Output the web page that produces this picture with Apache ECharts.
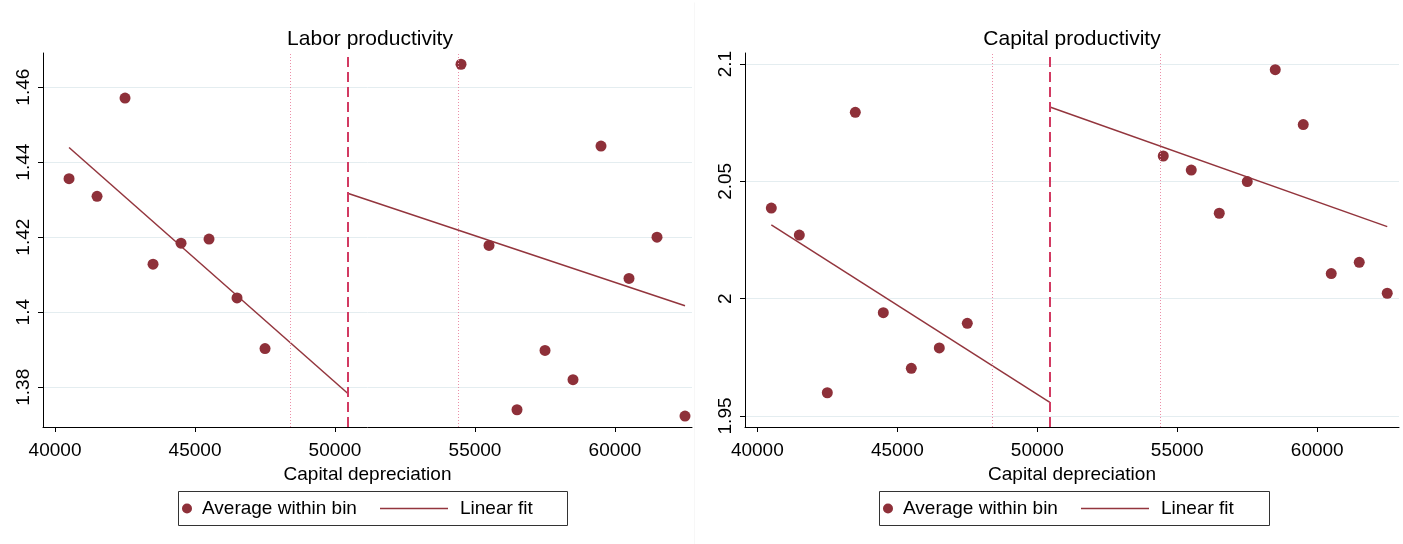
<!DOCTYPE html>
<html>
<head>
<meta charset="utf-8">
<script src="https://cdn.jsdelivr.net/npm/echarts@6/dist/echarts.min.js"></script>
<style>
  html, body { margin: 0; padding: 0; background: #fff; }
  #main { width: 1403px; height: 544px; }
</style>
</head>
<body>
<div id="main"></div>
<script>
// bin centres (capital depreciation)
var binX = [40500, 41500, 42500, 43500, 44500, 45500, 46500, 47500,
            54500, 55500, 56500, 57500, 58500, 59500, 60500, 61500, 62500];
// averages within bin
var laborAvg = [1.4356, 1.4309, 1.4571, 1.4128, 1.4184, 1.4195, 1.4038, 1.3903,
                1.4661, 1.4178, 1.3740, 1.3898, 1.3820, 1.4443, 1.4090, 1.4200, 1.3723];
var capitalAvg = [2.0386, 2.0271, 1.9599, 2.0794, 1.9940, 1.9703, 1.9790, 1.9895,
                  2.0608, 2.0548, 2.0364, 2.0499, 2.0976, 2.0742, 2.0107, 2.0155, 2.0023];
// linear fit end points, below and above the cutoff
var fitLeftX = [40500, 50450];
var fitRightX = [50450, 62500];
var laborFitLeft = [1.4439, 1.3784];
var laborFitRight = [1.4317, 1.4017];
var capitalFitLeft = [2.0314, 1.9558];
var capitalFitRight = [2.0817, 2.0307];
// cutoff and bandwidth limits
var cutoff = 50450;
var bandLimits = [48400, 54400];
// tick labels
var xTicks = [40000, 45000, 50000, 55000, 60000];
var laborTicks = [1.38, 1.4, 1.42, 1.44, 1.46];
var capitalTicks = [1.95, 2, 2.05, 2.1];

var FONT = "'Liberation Sans', Arial, sans-serif";
var DOT = '#8e3039';
var LINE = '#93353d';

function pairs(xs, ys) {
  return xs.map(function (x, i) { return [x, ys[i]]; });
}

function vLines() {
  return {
    silent: true,
    symbol: 'none',
    label: { show: false },
    data: [
      { xAxis: bandLimits[0], lineStyle: { color: '#ec8fa8', type: [1, 2], width: 1 } },
      { xAxis: bandLimits[1], lineStyle: { color: '#ec8fa8', type: [1, 2], width: 1 } },
      { xAxis: cutoff, lineStyle: { color: '#d23a62', type: [10, 5], width: 2 } }
    ]
  };
}

function xAxisOf(idx, min, max) {
  return {
    type: 'value', gridIndex: idx, min: min, max: max,
    name: 'Capital depreciation', nameLocation: 'middle', nameGap: 33,
    nameTextStyle: { color: '#000', fontSize: 19, fontFamily: FONT },
    axisLine: { onZero: false, lineStyle: { color: '#000', width: 1 } },
    axisTick: { length: 5, lineStyle: { color: '#000' }, customValues: xTicks },
    axisLabel: { color: '#000', fontSize: 19, fontFamily: FONT, margin: 14,
                 customValues: xTicks, formatter: function (v) { return String(v); } },
    splitLine: { show: false }
  };
}

function yAxisOf(idx, min, max, ticks) {
  return {
    type: 'value', gridIndex: idx, min: min, max: max,
    axisLine: { show: true, lineStyle: { color: '#000', width: 1 } },
    axisTick: { show: true, length: 5, lineStyle: { color: '#000' }, customValues: ticks },
    axisLabel: { color: '#000', fontSize: 19, fontFamily: FONT, rotate: 90, margin: 10,
                 customValues: ticks, formatter: function (v) { return String(+v.toFixed(4)); } },
    splitLine: { show: true, lineStyle: { color: '#e4edf0', width: 1 } }
  };
}

function legendsAt(left) {
  return [
    {
      left: left + 6, top: 499, padding: 0, itemWidth: 20, itemHeight: 10,
      icon: 'circle', data: ['Average within bin'],
      textStyle: { color: '#000', fontSize: 19, fontFamily: FONT }
    },
    {
      left: left + 204, top: 499, padding: 0, itemWidth: 68, itemHeight: 1.5,
      icon: 'rect', data: ['Linear fit'],
      textStyle: { color: '#000', fontSize: 19, fontFamily: FONT, padding: [0, 0, 0, 7] }
    }
  ];
}

var chart = echarts.init(document.getElementById('main'));

var option = {
  backgroundColor: '#fff',
  animation: false,
  title: [
    { text: 'Labor productivity', left: 365, top: 24, textAlign: 'center',
      textStyle: { color: '#000', fontSize: 21, fontWeight: 'normal', fontFamily: FONT } },
    { text: 'Capital productivity', left: 1067, top: 24, textAlign: 'center',
      textStyle: { color: '#000', fontSize: 21, fontWeight: 'normal', fontFamily: FONT } }
  ],
  legend: legendsAt(176).concat(legendsAt(877)),
  graphic: [
    { type: 'rect', left: 176, top: 489, shape: { width: 389, height: 34 },
      style: { fill: 'none', stroke: '#333', lineWidth: 1 }, silent: true },
    { type: 'rect', left: 877, top: 489, shape: { width: 390, height: 34 },
      style: { fill: 'none', stroke: '#333', lineWidth: 1 }, silent: true },
    { type: 'line', left: 692, top: 0, shape: { x1: 0, y1: 0, x2: 0, y2: 544 },
      style: { stroke: '#f7f7f7', lineWidth: 1 }, silent: true, z: -1 }
  ],
  grid: [
    { left: 43, top: 53, width: 649, height: 374 },
    { left: 745, top: 53, width: 654, height: 374 }
  ],
  xAxis: [xAxisOf(0, 39570, 62750), xAxisOf(1, 39560, 62920)],
  yAxis: [yAxisOf(0, 1.3694, 1.4691, laborTicks), yAxisOf(1, 1.9453, 2.1047, capitalTicks)],
  series: [
    { name: 'Average within bin', type: 'scatter', xAxisIndex: 0, yAxisIndex: 0,
      symbolSize: 11, itemStyle: { color: DOT, opacity: 1 },
      data: pairs(binX, laborAvg), markLine: vLines(), z: 3 },
    { name: 'Linear fit', type: 'line', xAxisIndex: 0, yAxisIndex: 0, symbol: 'none',
      lineStyle: { color: LINE, width: 1.5 }, itemStyle: { color: LINE },
      data: pairs(fitLeftX, laborFitLeft), z: 2 },
    { name: 'Linear fit', type: 'line', xAxisIndex: 0, yAxisIndex: 0, symbol: 'none',
      lineStyle: { color: LINE, width: 1.5 }, itemStyle: { color: LINE },
      data: pairs(fitRightX, laborFitRight), z: 2 },
    { name: 'Average within bin', type: 'scatter', xAxisIndex: 1, yAxisIndex: 1,
      symbolSize: 11, itemStyle: { color: DOT, opacity: 1 },
      data: pairs(binX, capitalAvg), markLine: vLines(), z: 3 },
    { name: 'Linear fit', type: 'line', xAxisIndex: 1, yAxisIndex: 1, symbol: 'none',
      lineStyle: { color: LINE, width: 1.5 }, itemStyle: { color: LINE },
      data: pairs(fitLeftX, capitalFitLeft), z: 2 },
    { name: 'Linear fit', type: 'line', xAxisIndex: 1, yAxisIndex: 1, symbol: 'none',
      lineStyle: { color: LINE, width: 1.5 }, itemStyle: { color: LINE },
      data: pairs(fitRightX, capitalFitRight), z: 2 }
  ]
};

chart.setOption(option);
</script>
</body>
</html>
